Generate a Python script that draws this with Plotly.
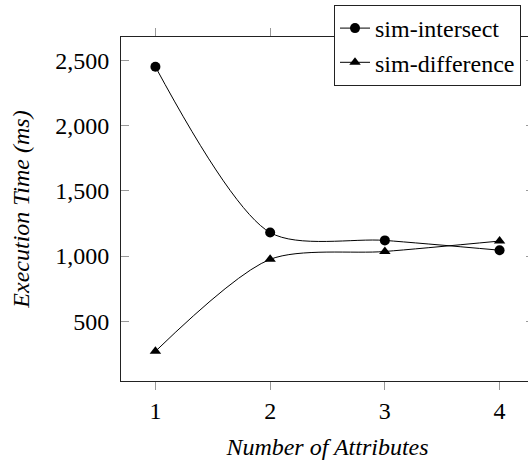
import plotly.graph_objects as go

# Data
attributes = [1, 2, 3, 4]
sim_intersect = [2450, 1180, 1120, 1045]
sim_difference = [270, 975, 1035, 1115]
y_tick_vals = [500, 1000, 1500, 2000, 2500]
y_tick_text = ["500", "1,000", "1,500", "2,000", "2,500"]
x_tick_vals = [1, 2, 3, 4]
x_tick_text = ["1", "2", "3", "4"]

FONT = "Liberation Serif"
W, H = 540, 466
L, R, T, B = 121, 6, 37, 85
PW = W - L - R
PH = H - T - B

fig = go.Figure()
fig.add_trace(go.Scatter(
    x=attributes, y=sim_intersect, name="sim-intersect",
    mode="lines+markers",
    line=dict(color="black", width=1, shape="spline", smoothing=0.8),
    marker=dict(symbol="circle", size=10, color="black"),
))
fig.add_trace(go.Scatter(
    x=attributes, y=sim_difference, name="sim-difference",
    mode="lines+markers",
    line=dict(color="black", width=1, shape="spline", smoothing=0.8),
    marker=dict(symbol="triangle-up", size=10, color="black"),
))

fig.update_layout(
    width=W, height=H,
    margin=dict(l=L, r=R, t=T, b=B, autoexpand=False),
    paper_bgcolor="white", plot_bgcolor="white",
    font=dict(family=FONT, size=24, color="black"),
    showlegend=True,
    legend=dict(
        x=(334 - L) / PW, y=1 + (T - 5) / PH, xanchor="left", yanchor="top",
        bgcolor="white", bordercolor="#222", borderwidth=1,
        font=dict(family=FONT, size=24, color="black"),
        tracegroupgap=0, itemwidth=30,
    ),
    xaxis=dict(
        range=[0.7, 4.3],
        tickmode="array", tickvals=x_tick_vals, ticktext=x_tick_text,
        ticks="outside", ticklen=8, tickcolor="#999", tickwidth=1,
        showline=True, linecolor="#222", linewidth=1, mirror="ticks",
        showgrid=False, zeroline=False,
        tickfont=dict(family=FONT, size=24, color="black"),
        title=dict(text="Number of Attributes",
                   font=dict(family=FONT, size=24, color="black", style="italic"),
                   standoff=15),
    ),
    yaxis=dict(
        range=[43, 2678],
        tickmode="array", tickvals=y_tick_vals, ticktext=y_tick_text,
        ticks="inside", ticklen=8, tickcolor="#999", tickwidth=1,
        showline=True, linecolor="#222", linewidth=1, mirror="ticks",
        showgrid=False, zeroline=False,
        tickfont=dict(family=FONT, size=24, color="black"),
        ticklabelstandoff=6,
        title=dict(text="Execution Time (ms)",
                   font=dict(family=FONT, size=24, color="black", style="italic"),
                   standoff=18),
    ),
)

fig.write_html(
    "out.html",
    post_script="document.body.style.margin='0';document.body.style.overflow='hidden';document.documentElement.style.overflow='hidden';",
)
